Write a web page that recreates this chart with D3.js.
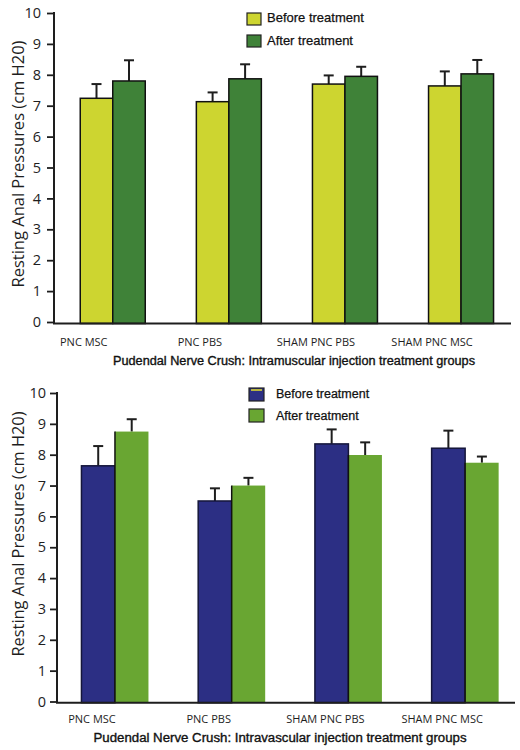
<!DOCTYPE html>
<html><head><meta charset="utf-8">
<script src="https://cdn.jsdelivr.net/npm/d3@7"></script>
<style>body{margin:0;background:#fff} svg{display:block}</style>
</head><body><svg id="c" width="520" height="750"></svg>
<script>
const categories = ["PNC MSC", "PNC PBS", "SHAM PNC PBS", "SHAM PNC MSC"];
const seriesNames = ["Before treatment", "After treatment"];
const yTicks = [0, 1, 2, 3, 4, 5, 6, 7, 8, 9, 10];
const yTitle = "Resting Anal Pressures (cm H20)";
const titleIM = "Pudendal Nerve Crush: Intramuscular injection treatment groups";
const titleIV = "Pudendal Nerve Crush: Intravascular injection treatment groups";

// Intramuscular (top)
const imBefore    = [7.24, 7.13, 7.70, 7.64];
const imBeforeErr = [0.46, 0.30, 0.28, 0.47];
const imAfter     = [7.80, 7.87, 7.95, 8.03];
const imAfterErr  = [0.67, 0.47, 0.31, 0.45];
// Intravascular (bottom)
const ivBefore    = [7.64, 6.50, 8.35, 8.21];
const ivBeforeErr = [0.64, 0.41, 0.47, 0.57];
const ivAfter     = [8.75, 7.00, 7.99, 7.74];
const ivAfterErr  = [0.40, 0.25, 0.41, 0.20];

const svg = d3.select("#c");
const INK = "#1e1e1e";
const numFont = "'Open Sans', 'DejaVu Sans', sans-serif";
const arialFont = "'Liberation Sans', Arial, sans-serif";

function panel(cfg) {
  const g = svg.append("g");
  const x = d3.scaleBand().domain(categories).range(cfg.xRange);
  const x1 = d3.scaleBand().domain([0, 1]).range([0, cfg.groupW]);
  const y = d3.scaleLinear().domain([0, 10]).range(cfg.yRange);

  const rows = categories.map((c, i) => ({
    c,
    vals: [
      { s: 0, v: cfg.before[i], e: cfg.beforeErr[i] },
      { s: 1, v: cfg.after[i], e: cfg.afterErr[i] }
    ]
  }));

  const grp = g.selectAll("g.grp").data(rows).join("g")
    .attr("transform", d => `translate(${x(d.c) + (x.bandwidth() - cfg.groupW) / 2},0)`);

  grp.selectAll("g.err").data(d => d.vals).join("g").each(function (d) {
    const cx = x1(d.s) + x1.bandwidth() / 2;
    const e = d3.select(this);
    e.append("line").attr("x1", cx).attr("x2", cx).attr("y1", y(d.v)).attr("y2", y(d.v + d.e))
      .attr("stroke", INK).attr("stroke-width", 2);
    e.append("line").attr("x1", cx - 5).attr("x2", cx + 5).attr("y1", y(d.v + d.e)).attr("y2", y(d.v + d.e))
      .attr("stroke", INK).attr("stroke-width", 2);
  });

  grp.selectAll("rect").data(d => d.vals).join("rect")
    .attr("x", d => x1(d.s))
    .attr("y", d => y(d.v))
    .attr("width", x1.bandwidth())
    .attr("height", d => cfg.base - y(d.v))
    .attr("fill", d => cfg.colors[d.s])
    .attr("stroke", d => cfg.strokes[d.s])
    .attr("stroke-width", 1.5);

  if (cfg.afterLeftEdge) {
    grp.selectAll("line.edge").data(d => [d.vals[1]]).join("line")
      .attr("x1", x1(1)).attr("x2", x1(1))
      .attr("y1", d => y(d.v)).attr("y2", cfg.base)
      .attr("stroke", "#111").attr("stroke-width", 1.5);
  }

  const ya = g.append("g").attr("transform", `translate(${cfg.axisX},0)`)
    .call(d3.axisLeft(y).tickValues(yTicks).tickSize(7).tickPadding(cfg.tickPad).tickSizeOuter(0));
  ya.select(".domain").remove();
  ya.selectAll(".tick line").attr("stroke", INK).attr("stroke-width", 1.8);
  ya.selectAll(".tick text").attr("fill", INK).style("font-family", numFont).style("font-size", "14.5px");
  g.append("line").attr("x1", cfg.axisX).attr("x2", cfg.axisX)
    .attr("y1", y(10) - 1).attr("y2", cfg.baseLine)
    .attr("stroke", INK).attr("stroke-width", 2);

  g.append("line").attr("x1", cfg.axisX - 1).attr("x2", cfg.axisEnd)
    .attr("y1", cfg.baseLine).attr("y2", cfg.baseLine)
    .attr("stroke", INK).attr("stroke-width", 2);

  const xa = g.append("g").attr("transform", `translate(0,${cfg.baseLine})`)
    .call(d3.axisBottom(x).tickSize(0).tickSizeOuter(0));
  xa.select(".domain").remove();
  xa.selectAll(".tick text")
    .attr("x", cfg.labelDx).attr("y", cfg.labelDy).attr("dy", 0)
    .attr("fill", INK).style("font-family", numFont).style("font-size", "11px");

  g.append("text")
    .attr("transform", `translate(${cfg.yTitleX},${cfg.yTitleY}) rotate(-90)`)
    .attr("text-anchor", "middle")
    .attr("textLength", cfg.yTitleLen).attr("lengthAdjust", "spacingAndGlyphs")
    .attr("fill", INK).style("font-family", numFont).style("font-size", "17px")
    .text(yTitle);

  g.append("text")
    .attr("x", cfg.titleX).attr("y", cfg.titleY)
    .attr("text-anchor", "middle")
    .attr("textLength", cfg.titleLen).attr("lengthAdjust", "spacingAndGlyphs")
    .attr("fill", "#111").attr("stroke", "#111").attr("stroke-width", 0.35)
    .style("font-family", arialFont).style("font-size", cfg.titleSize + "px")
    .text(cfg.title);

  const lg = g.append("g");
  seriesNames.forEach((name, i) => {
    lg.append("rect")
      .attr("x", cfg.legX).attr("y", cfg.legY[i])
      .attr("width", cfg.legW).attr("height", cfg.legH)
      .attr("fill", cfg.colors[i]).attr("stroke", "#222").attr("stroke-width", 1.2);
    if (cfg.legendMark && i === 0) {
      lg.append("line").attr("x1", cfg.legX + 2).attr("x2", cfg.legX + cfg.legW - 2)
        .attr("y1", cfg.legY[i] + 2).attr("y2", cfg.legY[i] + 2)
        .attr("stroke", "#e6e22a").attr("stroke-width", 1.5);
    }
    lg.append("text")
      .attr("x", cfg.legTextX).attr("y", cfg.legTextY[i])
      .attr("fill", "#111").attr("stroke", "#111").attr("stroke-width", 0.25)
      .style("font-family", arialFont).style("font-size", cfg.legSize + "px")
      .text(name);
  });
}

panel({
  before: imBefore, beforeErr: imBeforeErr, after: imAfter, afterErr: imAfterErr,
  xRange: [54.7, 519.1], groupW: 65, yRange: [322, 13], base: 323.5, baseLine: 323.5,
  axisX: 54, axisEnd: 511, tickPad: 6,
  colors: ["#cdd530", "#3f8238"], strokes: ["#111", "#111"], afterLeftEdge: false,
  labelDx: -29, labelDy: 22,
  yTitleX: 24, yTitleY: 164, yTitleLen: 247,
  title: titleIM, titleX: 294, titleY: 365, titleLen: 362, titleSize: 12,
  legX: 247, legY: [13, 35], legW: 14, legH: 12, legTextX: 267, legTextY: [22, 45], legSize: 13,
  legendMark: false
});

panel({
  before: ivBefore, beforeErr: ivBeforeErr, after: ivAfter, afterErr: ivAfterErr,
  xRange: [56.6, 523.5], groupW: 67, yRange: [701.5, 393], base: 702.7, baseLine: 702.7,
  axisX: 57, axisEnd: 515, tickPad: 4,
  colors: ["#2c2f84", "#69a632"], strokes: ["#15163a", "none"], afterLeftEdge: true,
  labelDx: -23, labelDy: 20,
  yTitleX: 24, yTitleY: 534, yTitleLen: 245,
  title: titleIV, titleX: 280, titleY: 742, titleLen: 373, titleSize: 12.5,
  legX: 249, legY: [388, 409], legW: 15, legH: 13, legTextX: 276, legTextY: [398, 420], legSize: 12.5,
  legendMark: true
});
</script>
</body></html>
